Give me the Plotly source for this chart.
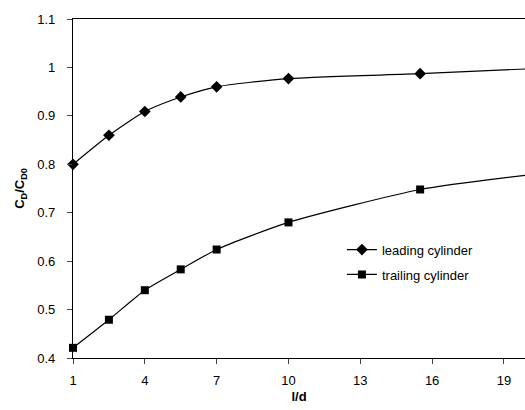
import plotly.graph_objects as go

x_vals = [1, 2.5, 4, 5.5, 7, 10, 15.5, 20]
leading = [0.80, 0.86, 0.909, 0.939, 0.96, 0.977, 0.987, 0.997]
trailing = [0.421, 0.479, 0.54, 0.583, 0.624, 0.68, 0.748, 0.778]
x_ticks = [1, 4, 7, 10, 13, 16, 19]
y_ticks = [0.4, 0.5, 0.6, 0.7, 0.8, 0.9, 1.0, 1.1]
y_labels = ["0.4", "0.5", "0.6", "0.7", "0.8", "0.9", "1", "1.1"]

fig = go.Figure()
fig.add_trace(go.Scatter(x=x_vals, y=leading, name="leading cylinder", mode="lines+markers",
                         legendgroup="a",
                         line=dict(color="black", width=1.2, shape="spline", smoothing=0.6),
                         marker=dict(symbol="diamond", size=9, color="black"), cliponaxis=False))
fig.add_trace(go.Scatter(x=x_vals, y=trailing, name="trailing cylinder", mode="lines+markers",
                         legendgroup="b",
                         line=dict(color="black", width=1.2, shape="spline", smoothing=0.6),
                         marker=dict(symbol="square", size=8, color="black"), cliponaxis=False))

fig.update_layout(
    width=525, height=410,
    margin=dict(l=73, r=0, t=19, b=52),
    plot_bgcolor="white", paper_bgcolor="white",
    font=dict(family="Liberation Sans, Arial", size=13, color="black"),
    showlegend=True,
    legend=dict(x=0.595, y=0.364, xanchor="left", yanchor="top", bgcolor="rgba(0,0,0,0)",
                font=dict(size=13), tracegroupgap=5, traceorder="grouped", itemwidth=30),
    xaxis=dict(range=[1, 19.88], tickmode="array", tickvals=x_ticks, ticks="outside", ticklen=5,
               ticklabelstandoff=5,
               showgrid=False, zeroline=False, showline=True, linecolor="black", linewidth=1.2,
               mirror=True, automargin=False,
               title=dict(text="<b>l/d</b>", font=dict(size=13), standoff=5)),
    yaxis=dict(range=[0.4, 1.1], tickmode="array", tickvals=y_ticks, ticktext=y_labels,
               ticks="outside", ticklen=5, ticklabelstandoff=9,
               showgrid=False, zeroline=False, showline=True, linecolor="black", linewidth=1.2,
               mirror=False, automargin=False,
               title=dict(text="<b>C<sub>D</sub>/C<sub>D0</sub></b>", font=dict(size=13), standoff=9)),
)
fig.write_html("out.html", config={"displayModeBar": False},
               post_script="document.body.style.margin='0';document.body.style.overflow='hidden';")
